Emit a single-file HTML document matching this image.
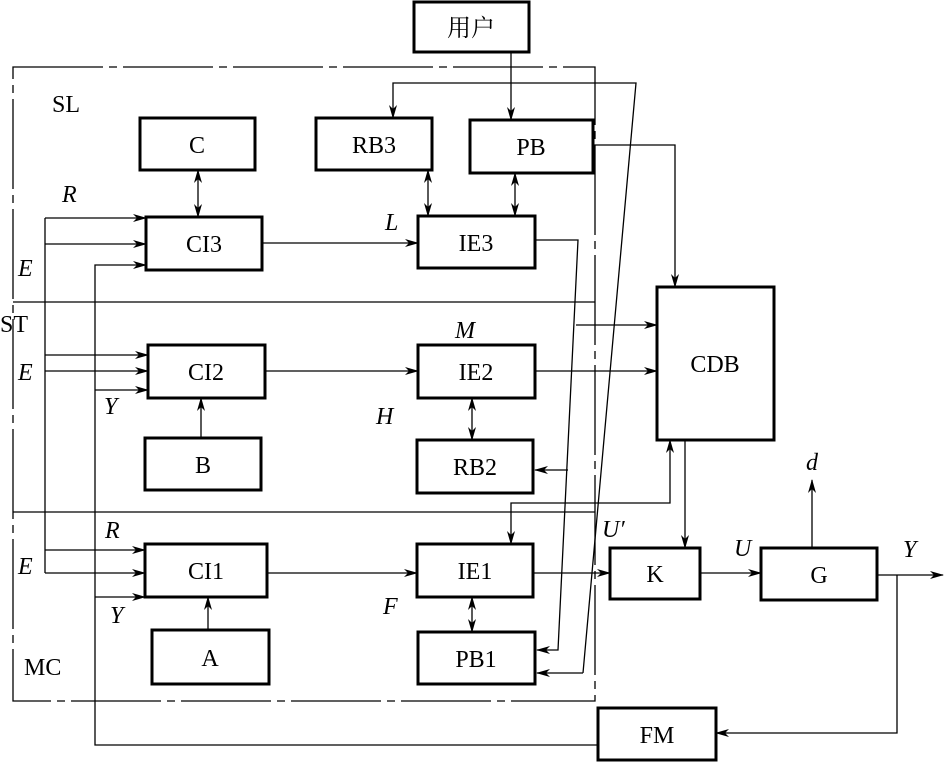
<!DOCTYPE html>
<html><head><meta charset="utf-8"><style>
html,body{margin:0;padding:0;background:#fff;}
svg{display:block;}
text{font-family:"Liberation Serif","Noto Serif CJK SC",serif;font-size:24px;fill:#000;}
.i{font-style:italic;}
</style></head><body>
<svg width="946" height="762" viewBox="0 0 946 762" xmlns="http://www.w3.org/2000/svg">
<defs>
<marker id="a" markerWidth="14" markerHeight="8" refX="13" refY="4" orient="auto" markerUnits="userSpaceOnUse">
<path d="M0,0 L14,4 L0,8 L4,4 Z" fill="#000"/></marker>
<marker id="b" markerWidth="14" markerHeight="8" refX="1" refY="4" orient="auto" markerUnits="userSpaceOnUse">
<path d="M14,0 L0,4 L14,8 L10,4 Z" fill="#000"/></marker>
</defs>
<g fill="none" stroke="#000" stroke-width="1.3">
<!-- frame -->
<rect x="13" y="67" width="582" height="634" stroke-dasharray="90,6,8,6"/>
<line x1="13" y1="302" x2="595" y2="302"/>
<line x1="13" y1="512" x2="595" y2="512"/>
</g>
<g fill="#fff" stroke="#000" stroke-width="3">
<rect x="414" y="2" width="115" height="50"/>
<rect x="140" y="118" width="115" height="52"/>
<rect x="316" y="118" width="116" height="52"/>
<rect x="470" y="120" width="123" height="53"/>
<rect x="146" y="217" width="116" height="53"/>
<rect x="418" y="216" width="117" height="52"/>
<rect x="148" y="345" width="117" height="53"/>
<rect x="418" y="345" width="117" height="53"/>
<rect x="145" y="438" width="116" height="52"/>
<rect x="417" y="440" width="116" height="53"/>
<rect x="145" y="544" width="122" height="53"/>
<rect x="417" y="544" width="116" height="53"/>
<rect x="152" y="630" width="117" height="54"/>
<rect x="418" y="632" width="117" height="52"/>
<rect x="657" y="287" width="117" height="153"/>
<rect x="610" y="548" width="90" height="51"/>
<rect x="761" y="548" width="116" height="52"/>
<rect x="598" y="708" width="118" height="52"/>
</g>
<g fill="none" stroke="#000" stroke-width="1.3">
<line x1="511" y1="52" x2="511" y2="120" marker-end="url(#a)"/>
<polyline points="583,673 636,83 393,83 393,118" marker-end="url(#a)"/>
<line x1="583" y1="673" x2="537" y2="673" marker-end="url(#a)"/>
<polyline points="535,240 578,240 558,650 537,650" marker-end="url(#a)"/>
<line x1="568" y1="470" x2="535" y2="470" marker-end="url(#a)"/>
<polyline points="593,145 675,145 675,287" marker-end="url(#a)"/>
<line x1="576" y1="325" x2="657" y2="325" marker-end="url(#a)"/>
<line x1="535" y1="371" x2="657" y2="371" marker-end="url(#a)"/>
<line x1="685" y1="440" x2="685" y2="548" marker-end="url(#a)"/>
<polyline points="511,544 511,503 670,503 670,440" marker-start="url(#b)" marker-end="url(#a)"/>
<line x1="533" y1="573" x2="610" y2="573" marker-end="url(#a)"/>
<line x1="700" y1="573" x2="761" y2="573" marker-end="url(#a)"/>
<line x1="812" y1="548" x2="812" y2="480" marker-end="url(#a)"/>
<line x1="877" y1="575" x2="943" y2="575" marker-end="url(#a)"/>
<polyline points="897,575 897,733 716,733" marker-end="url(#a)"/>
<polyline points="598,745 95,745 95,265 146,265" marker-end="url(#a)"/>
<line x1="45" y1="218" x2="45" y2="573"/>
<line x1="45" y1="218" x2="146" y2="218" marker-end="url(#a)"/>
<line x1="45" y1="244" x2="146" y2="244" marker-end="url(#a)"/>
<line x1="45" y1="355" x2="148" y2="355" marker-end="url(#a)"/>
<line x1="45" y1="371" x2="148" y2="371" marker-end="url(#a)"/>
<line x1="95" y1="390" x2="148" y2="390" marker-end="url(#a)"/>
<line x1="45" y1="550" x2="145" y2="550" marker-end="url(#a)"/>
<line x1="45" y1="573" x2="145" y2="573" marker-end="url(#a)"/>
<line x1="95" y1="597" x2="145" y2="597" marker-end="url(#a)"/>
<line x1="262" y1="243" x2="418" y2="243" marker-end="url(#a)"/>
<line x1="265" y1="371" x2="418" y2="371" marker-end="url(#a)"/>
<line x1="267" y1="573" x2="417" y2="573" marker-end="url(#a)"/>
<line x1="201" y1="438" x2="201" y2="398" marker-end="url(#a)"/>
<line x1="208" y1="630" x2="208" y2="597" marker-end="url(#a)"/>
<line x1="198" y1="170" x2="198" y2="217" marker-start="url(#b)" marker-end="url(#a)"/>
<line x1="428" y1="170" x2="428" y2="216" marker-start="url(#b)" marker-end="url(#a)"/>
<line x1="515" y1="173" x2="515" y2="216" marker-start="url(#b)" marker-end="url(#a)"/>
<line x1="472" y1="398" x2="472" y2="440" marker-start="url(#b)" marker-end="url(#a)"/>
<line x1="472" y1="597" x2="472" y2="632" marker-start="url(#b)" marker-end="url(#a)"/>
</g>
<g text-anchor="middle">
<text x="471" y="36">用户</text>
<text x="197" y="153">C</text>
<text x="374" y="153">RB3</text>
<text x="531" y="155">PB</text>
<text x="204" y="252">CI3</text>
<text x="476" y="251">IE3</text>
<text x="206" y="380">CI2</text>
<text x="476" y="380">IE2</text>
<text x="203" y="473">B</text>
<text x="475" y="475">RB2</text>
<text x="206" y="579">CI1</text>
<text x="475" y="579">IE1</text>
<text x="210" y="666">A</text>
<text x="476" y="667">PB1</text>
<text x="715" y="372">CDB</text>
<text x="655" y="582">K</text>
<text x="819" y="583">G</text>
<text x="657" y="743">FM</text>
</g>
<text x="52" y="112" font-size="22">SL</text>
<text x="0" y="332" font-size="22">ST</text>
<text x="24" y="675" font-size="22">MC</text>
<g class="i" font-size="22">
<text class="i" x="62" y="202">R</text>
<text class="i" x="18" y="276">E</text>
<text class="i" x="18" y="380">E</text>
<text class="i" x="104" y="414">Y</text>
<text class="i" x="455" y="338">M</text>
<text class="i" x="376" y="424">H</text>
<text class="i" x="385" y="230">L</text>
<text class="i" x="105" y="538">R</text>
<text class="i" x="18" y="574">E</text>
<text class="i" x="110" y="623">Y</text>
<text class="i" x="383" y="614">F</text>
<text class="i" x="602" y="537">U′</text>
<text class="i" x="734" y="556">U</text>
<text class="i" x="806" y="470">d</text>
<text class="i" x="903" y="557">Y</text>
</g>
</svg>
</body></html>
